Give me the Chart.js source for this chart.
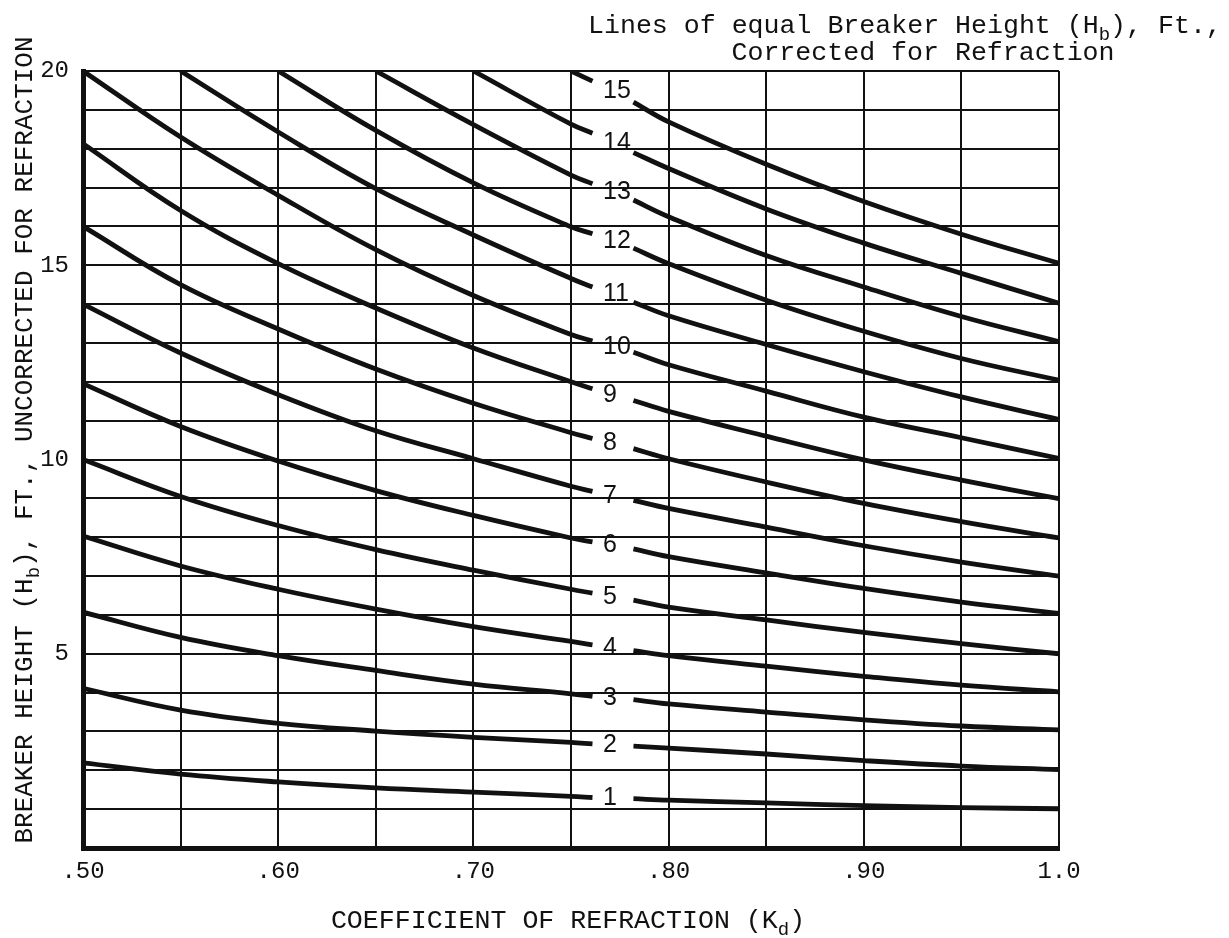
<!DOCTYPE html>
<html>
<head>
<meta charset="utf-8">
<title>Breaker height vs coefficient of refraction</title>
<script src="https://cdn.jsdelivr.net/npm/chart.js@4.4.1/dist/chart.umd.min.js"></script>
<style>
  html, body { margin: 0; padding: 0; background: #fff; }
  #wrap { width: 1229px; height: 938px; }
</style>
</head>
<body>
<div id="wrap"><canvas id="chart" width="1229" height="938"></canvas></div>
<script>
// Kd positions where the curves were read; index 7 is the gap where the label sits
const kd = [0.50, 0.55, 0.60, 0.65, 0.70, 0.75, 0.761, 0.771, 0.782, 0.80, 0.85, 0.90, 0.95, 1.00];
const labelKd = 0.7664;

const xGrid = [0.50, 0.55, 0.60, 0.65, 0.70, 0.75, 0.80, 0.85, 0.90, 0.95, 1.00];
const xTickValues = [0.50, 0.60, 0.70, 0.80, 0.90, 1.00];
const xTickLabels = ['.50', '.60', '.70', '.80', '.90', '1.0'];
const yTickValues = [5, 10, 15, 20];
const yTickLabels = ['5', '10', '15', '20'];

const curveNames = ['1', '2', '3', '4', '5', '6', '7', '8', '9', '10', '11', '12', '13', '14', '15'];

const hb1  = [2.19, 1.90, 1.70, 1.55, 1.44, 1.33, 1.30, null, 1.27, 1.23, 1.16, 1.09, 1.04, 1.01];
const hb2  = [4.11, 3.55, 3.21, 3.01, 2.85, 2.72, 2.68, null, 2.62, 2.57, 2.42, 2.25, 2.11, 2.02];
const hb3  = [6.07, 5.42, 4.95, 4.57, 4.22, 3.97, 3.90, null, 3.82, 3.71, 3.50, 3.30, 3.14, 3.04];
const hb4  = [8.03, 7.26, 6.66, 6.15, 5.70, 5.32, 5.23, null, 5.08, 4.95, 4.68, 4.42, 4.19, 4.02];
const hb5  = [10.0, 9.05, 8.30, 7.68, 7.15, 6.66, 6.56, null, 6.38, 6.20, 5.87, 5.55, 5.26, 5.00];
const hb6  = [11.95, 10.85, 9.96, 9.20, 8.56, 7.98, 7.88, null, 7.70, 7.50, 7.08, 6.68, 6.33, 6.04];
const hb7  = [14.0, 12.74, 11.67, 10.74, 10.02, 9.31, 9.18, null, 8.95, 8.74, 8.26, 7.78, 7.36, 7.00];
const hb8  = [16.0, 14.50, 13.36, 12.33, 11.45, 10.69, 10.54, null, 10.28, 10.02, 9.42, 8.87, 8.40, 7.98];
const hb9  = [18.13, 16.41, 15.04, 13.90, 12.87, 12.00, 11.82, null, 11.52, 11.24, 10.60, 9.99, 9.47, 8.99];
const hb10 = [20.0, 18.30, 16.80, 15.40, 14.22, 13.22, 13.05, null, 12.76, 12.44, 11.76, 11.09, 10.56, 10.03];
const hb11 = [null, 20.0, 18.43, 16.97, 15.78, 14.66, 14.44, null, 14.05, 13.70, 12.96, 12.26, 11.61, 11.03];
const hb12 = [null, null, 20.0, 18.47, 17.12, 15.99, 15.81, null, 15.44, 15.04, 14.10, 13.30, 12.60, 12.04];
const hb13 = [null, null, null, 20.0, 18.62, 17.32, 17.10, null, 16.68, 16.25, 15.25, 14.44, 13.68, 13.03];
const hb14 = [null, null, null, null, 20.0, 18.63, 18.40, null, 17.90, 17.49, 16.45, 15.57, 14.79, 14.02];
const hb15 = [null, null, null, null, null, 20.0, 19.74, null, 19.20, 18.69, 17.60, 16.64, 15.80, 15.05];

const curves = [hb1, hb2, hb3, hb4, hb5, hb6, hb7, hb8, hb9, hb10, hb11, hb12, hb13, hb14, hb15];

const INK = '#111';
const MONO = '"Liberation Mono", "DejaVu Sans Mono", monospace';

// draw a run of text pieces, some of them subscripts
function drawRuns(ctx, runs, x, y, size, align) {
    const mainFont = `${size}px ${MONO}`;
    const subFont = `${Math.round(size * 0.72)}px ${MONO}`;
    let total = 0;
    runs.forEach(r => {
        ctx.font = r.sub ? subFont : mainFont;
        r.w = ctx.measureText(r.t).width;
        total += r.w;
    });
    let cx = align === 'center' ? x - total / 2 : x;
    ctx.textAlign = 'left';
    ctx.textBaseline = 'alphabetic';
    runs.forEach(r => {
        ctx.font = r.sub ? subFont : mainFont;
        ctx.fillText(r.t, cx, r.sub ? y + size * 0.28 : y);
        cx += r.w;
    });
}

const titlesPlugin = {
    id: 'titles',
    afterDraw(chart) {
        const ctx = chart.ctx;
        const area = chart.chartArea;
        ctx.save();
        ctx.fillStyle = INK;

        drawRuns(ctx, [{ t: 'Lines of equal Breaker Height (H' }, { t: 'b', sub: true }, { t: '), Ft.,' }],
            588, 33, 26.6, 'left');
        drawRuns(ctx, [{ t: 'Corrected for Refraction' }], 923, 60, 26.6, 'center');

        drawRuns(ctx, [{ t: 'COEFFICIENT OF REFRACTION (K' }, { t: 'd', sub: true }, { t: ')' }],
            (area.left + area.right) / 2 - 3, 928, 26.6, 'center');

        ctx.translate(32, 440);
        ctx.rotate(-Math.PI / 2);
        drawRuns(ctx, [{ t: 'BREAKER HEIGHT (H' }, { t: 'b', sub: true }, { t: '), FT., UNCORRECTED FOR REFRACTION' }],
            0, 0, 26, 'center');
        ctx.restore();
    }
};

const curveLabelPlugin = {
    id: 'curveLabels',
    afterDatasetsDraw(chart) {
        const ctx = chart.ctx;
        const xs = chart.scales.x;
        const ys = chart.scales.y;
        ctx.save();
        ctx.fillStyle = INK;
        ctx.font = '25px "Liberation Sans", Arial, sans-serif';
        ctx.textAlign = 'left';
        ctx.textBaseline = 'middle';
        curves.forEach((vals, i) => {
            const yv = (vals[6] + vals[8]) / 2;
            ctx.fillText(curveNames[i], xs.getPixelForValue(labelKd), ys.getPixelForValue(yv));
        });
        ctx.restore();
    }
};

const datasets = curves.map((vals, i) => ({
    label: curveNames[i],
    data: vals.map((v, j) => ({ x: kd[j], y: v })),
    borderColor: INK,
    borderWidth: 4.8,
    pointRadius: 0,
    fill: false,
    spanGaps: false,
    tension: 0.4
}));

new Chart(document.getElementById('chart').getContext('2d'), {
    type: 'line',
    data: { datasets },
    options: {
        responsive: false,
        animation: false,
        layout: { padding: { left: 0, top: 71, right: 170, bottom: 0 } },
        plugins: {
            legend: { display: false },
            tooltip: { enabled: false },
            title: { display: false }
        },
        scales: {
            x: {
                type: 'linear',
                min: 0.5,
                max: 1.0,
                afterBuildTicks: scale => { scale.ticks = xGrid.map(v => ({ value: v })); },
                afterFit: scale => { scale.height = 90; },
                ticks: {
                    autoSkip: false,
                    maxRotation: 0,
                    padding: 9,
                    color: INK,
                    font: { family: MONO, size: 24 },
                    callback: value => {
                        const i = xTickValues.findIndex(v => Math.abs(v - value) < 1e-6);
                        return i >= 0 ? xTickLabels[i] : '';
                    }
                },
                grid: { color: INK, lineWidth: 2, drawTicks: false },
                border: { display: true, color: INK, width: 5 }
            },
            y: {
                type: 'linear',
                min: 0,
                max: 20,
                afterFit: scale => { scale.width = 83; },
                ticks: {
                    stepSize: 1,
                    autoSkip: false,
                    padding: 14,
                    color: INK,
                    font: { family: MONO, size: 24 },
                    callback: value => {
                        const i = yTickValues.indexOf(value);
                        return i >= 0 ? yTickLabels[i] : '';
                    }
                },
                grid: { color: INK, lineWidth: 2, drawTicks: false },
                border: { display: true, color: INK, width: 5 }
            }
        }
    },
    plugins: [titlesPlugin, curveLabelPlugin]
});
</script>
</body>
</html>
